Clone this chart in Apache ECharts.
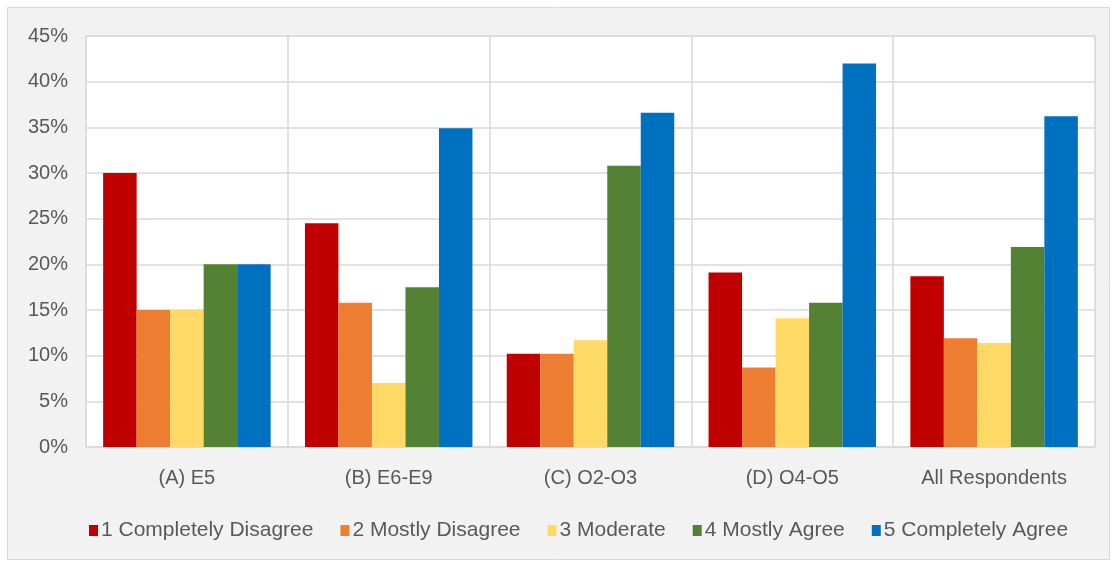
<!DOCTYPE html>
<html>
<head>
<meta charset="utf-8">
<script src="https://cdn.jsdelivr.net/npm/echarts@6/dist/echarts.min.js"></script>
<style>
html,body{margin:0;padding:0;background:#fff;}
#chart{width:1118px;height:563px;}
</style>
</head>
<body>
<div id="chart"></div>
<script>
const categories = ['(A) E5', '(B) E6-E9', '(C) O2-O3', '(D) O4-O5', 'All Respondents'];
const seriesNames = ['1 Completely Disagree', '2 Mostly Disagree', '3 Moderate', '4 Mostly Agree', '5 Completely Agree'];
const completelyDisagree = [30.0, 24.5, 10.2, 19.1, 18.7];
const mostlyDisagree = [15.0, 15.8, 10.2, 8.7, 11.9];
const moderate = [15.0, 7.0, 11.7, 14.1, 11.4];
const mostlyAgree = [20.0, 17.5, 30.8, 15.8, 21.9];
const completelyAgree = [20.0, 34.9, 36.6, 42.0, 36.2];
const yTicks = [0, 5, 10, 15, 20, 25, 30, 35, 40, 45];
const colors = ['#c00000', '#ed7d31', '#ffd966', '#548235', '#0070c0'];

const allValues = [completelyDisagree, mostlyDisagree, moderate, mostlyAgree, completelyAgree];
const FONT = 'Liberation Sans';
const FS = 20;
const chart = echarts.init(document.getElementById('chart'), null, {renderer: 'canvas'});
chart.setOption({
  backgroundColor: '#ffffff',
  animation: false,
  graphic: [{
    type: 'rect', z: -10, silent: true,
    shape: {x: 7.5, y: 7.5, width: 1102, height: 552},
    style: {fill: '#f2f2f2', stroke: '#d9d9d9', lineWidth: 1}
  }],
  grid: {
    left: 86, right: 23, top: 36, bottom: 116,
    show: true, backgroundColor: '#ffffff', borderColor: '#d9d9d9', borderWidth: 1
  },
  legend: {
    top: 515, left: 84,
    itemWidth: 9, itemHeight: 11, itemGap: 27,
    icon: 'rect',
    textStyle: {color: '#595959', fontSize: 21, fontFamily: FONT, padding: [0,0,0,-2]},
    data: seriesNames
  },
  xAxis: {
    type: 'category',
    data: categories,
    axisLine: {lineStyle: {color: '#d9d9d9'}},
    axisTick: {show: false},
    splitLine: {show: true, interval: 0, lineStyle: {color: '#d9d9d9', width: 1.5}},
    axisLabel: {color: '#595959', fontSize: FS, fontFamily: FONT, margin: 21, interval: 0}
  },
  yAxis: {
    type: 'value',
    min: yTicks[0], max: yTicks[yTicks.length - 1], interval: yTicks[1] - yTicks[0],
    axisLine: {show: false},
    axisTick: {show: false},
    splitLine: {lineStyle: {color: '#d9d9d9', width: 1.5}},
    axisLabel: {color: '#595959', fontSize: FS, fontFamily: FONT, margin: 18, formatter: '{value}%'}
  },
  series: seriesNames.map((name, i) => ({
    name: name,
    type: 'bar',
    data: allValues[i],
    barGap: '0%',
    barCategoryGap: '17%',
    itemStyle: {color: colors[i]}
  }))
});
</script>
</body>
</html>
